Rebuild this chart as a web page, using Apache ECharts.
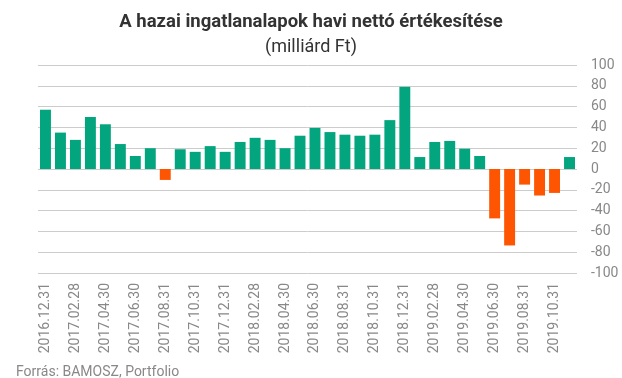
<!DOCTYPE html>
<html><head><meta charset="utf-8">
<script src="https://cdn.jsdelivr.net/npm/echarts@6/dist/echarts.min.js"></script>
<style>html,body{margin:0;padding:0;background:#fff}#c{width:622px;height:378px}</style>
</head><body><div id="c"></div>
<script>
const categories = ["2016.12.31","2017.01.31","2017.02.28","2017.03.31","2017.04.30","2017.05.31","2017.06.30","2017.07.31","2017.08.31","2017.09.30","2017.10.31","2017.11.30","2017.12.31","2018.01.31","2018.02.28","2018.03.31","2018.04.30","2018.05.31","2018.06.30","2018.07.31","2018.08.31","2018.09.30","2018.10.31","2018.11.30","2018.12.31","2019.01.31","2019.02.28","2019.03.31","2019.04.30","2019.05.31","2019.06.30","2019.07.31","2019.08.31","2019.09.30","2019.10.31","2019.11.30"];
const values = [57,35,28,50,43,24,12.5,20,-10.5,19,16.5,22,16.5,26,30,28,20,32,39.5,35.5,33,32,33,47,79,11.5,26,27,19.5,12.5,-47.5,-73.5,-15,-25.5,-23,11.5];
const titleText = "A hazai ingatlanalapok havi nettó értékesítése";
const subtitleText = "(milliárd Ft)";
const sourceText = "Forrás: BAMOSZ, Portfolio";
const posColor = "#03a57f", negColor = "#fe5502";
const chart = echarts.init(document.getElementById('c'));
chart.setOption({
  animation:false,
  textStyle:{fontFamily:'Roboto'},
  title:[
    {text:titleText,left:'center',top:8,textStyle:{fontFamily:'Roboto',fontWeight:'bold',fontSize:18.5,color:'#333'}},
    {text:subtitleText,left:'center',top:33,textStyle:{fontFamily:'Roboto',fontWeight:'normal',fontSize:18,color:'#333'}},
    {text:sourceText,left:11,top:360,textStyle:{fontFamily:'Roboto',fontWeight:'normal',fontSize:14,color:'#888'}}
  ],
  grid:{left:38,right:45,top:65,bottom:105,containLabel:false},
  xAxis:{type:'category',data:categories,
    axisLine:{show:false},axisTick:{show:false},
    axisLabel:{interval:1,rotate:90,margin:10,color:'#888',fontSize:14,fontFamily:'Roboto'}},
  yAxis:{type:'value',position:'right',min:-100,max:100,interval:20,
    axisLine:{show:false},axisTick:{show:false},
    axisLabel:{margin:14,color:'#888',fontSize:14,fontFamily:'Roboto'},
    splitLine:{lineStyle:{color:'#cccccc',width:1}}},
  series:[{type:'bar',data:values,barCategoryGap:'27%',
    itemStyle:{color:p=>p.value<0?negColor:posColor}}]
});
</script></body></html>
